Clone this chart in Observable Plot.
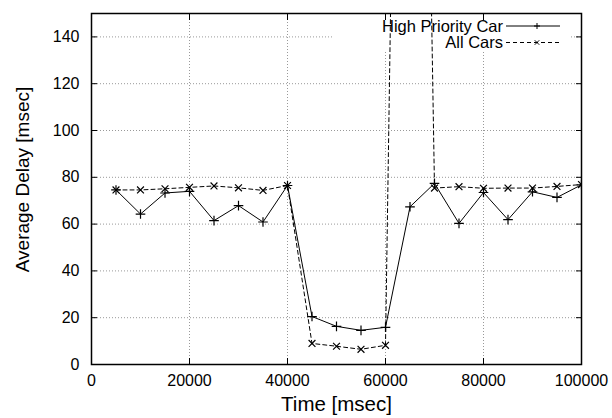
<!DOCTYPE html>
<html>
<head>
<meta charset="utf-8">
<script src="https://cdn.jsdelivr.net/npm/d3@7"></script>
<script src="https://cdn.jsdelivr.net/npm/@observablehq/plot@0.6"></script>
<style>
  html, body { margin: 0; padding: 0; background: white; }
  #chart { width: 612px; height: 418px; }
</style>
</head>
<body>
<div id="chart"></div>
<script>
const times = [5000, 10000, 15000, 20000, 25000, 30000, 35000, 40000, 45000, 50000,
               55000, 60000, 65000, 70000, 75000, 80000, 85000, 90000, 95000, 100000];
const highPriorityCar = [74.6, 64.3, 73.3, 74.0, 61.5, 67.9, 60.9, 76.5, 20.5, 16.3,
                         14.6, 15.9, 67.4, 77.4, 60.3, 73.5, 61.9, 73.8, 71.4, 76.8];
const allCars = [74.6, 74.6, 75.1, 75.7, 76.3, 75.5, 74.4, 76.5, 9.0, 7.8,
                 6.5, 8.2, 700, 75.4, 76.0, 75.3, 75.4, 75.4, 76.1, 76.9];
const xTicks = [0, 20000, 40000, 60000, 80000, 100000];
const yTicks = [0, 20, 40, 60, 80, 100, 120, 140];
const seriesNames = ["High Priority Car", "All Cars"];
const xLabel = "Time [msec]";
const yLabel = "Average Delay [msec]";

const high = times.map((t, i) => ({t, v: highPriorityCar[i]}));
const all = times.map((t, i) => ({t, v: allCars[i]}));

const font = "'Liberation Sans', Arial, Helvetica, sans-serif";
const gridStyle = {stroke: "#999", strokeDasharray: "1,2", strokeWidth: 1};

const plot = Plot.plot({
  width: 612,
  height: 418,
  marginLeft: 91,
  marginRight: 31,
  marginTop: 13,
  marginBottom: 54,
  style: {fontFamily: font, background: "white", color: "black"},
  x: {domain: [0, 100000]},
  y: {domain: [0, 150]},
  marks: [
    Plot.ruleX(xTicks.slice(1, -1), gridStyle),
    Plot.ruleY(yTicks.slice(1), gridStyle),
    Plot.line(high, {x: "t", y: "v", stroke: "black", strokeWidth: 1, clip: true}),
    Plot.line(all, {x: "t", y: "v", stroke: "black", strokeWidth: 1, strokeDasharray: "4,3", clip: true}),
    Plot.dot(high, {x: "t", y: "v", symbol: "plus", r: 3.2, stroke: "black", strokeWidth: 1.2, clip: true}),
    Plot.dot(all, {x: "t", y: "v", symbol: "times", r: 3.2, stroke: "black", strokeWidth: 1.2, clip: true}),
    Plot.axisX({ticks: xTicks, tickSize: 0, tickPadding: 10, fontSize: 16, tickFormat: d => String(d), label: null}),
    Plot.axisY({ticks: yTicks, tickSize: 0, tickPadding: 12, fontSize: 16, tickFormat: d => String(d), label: null}),
    Plot.axisX({ticks: xTicks, anchor: "bottom", tickSize: -6, tickFormat: () => "", label: null}),
    Plot.axisX({ticks: xTicks, anchor: "top", tickSize: -6, tickFormat: () => "", label: null}),
    Plot.axisY({ticks: yTicks, anchor: "left", tickSize: -6, tickFormat: () => "", label: null}),
    Plot.axisY({ticks: yTicks, anchor: "right", tickSize: -6, tickFormat: () => "", label: null}),
    Plot.frame({stroke: "black", strokeWidth: 1.5}),
    Plot.text([xLabel], {text: d => d, frameAnchor: "bottom", textAnchor: "middle", dy: 40, fontSize: 20.5, lineAnchor: "middle"}),
    Plot.text([yLabel], {text: d => d, frameAnchor: "left", textAnchor: "middle", dx: -69, dy: -9.5, rotate: -90, fontSize: 19, lineAnchor: "middle"})
  ]
});

document.getElementById("chart").appendChild(plot);

// Legend (gnuplot-style key with opaque background)
const svg = d3.select(plot);
const rules = plot.querySelectorAll('g[aria-label="rule"]');
const lastRule = rules[rules.length - 1];
const bg = document.createElementNS("http://www.w3.org/2000/svg", "rect");
bg.setAttribute("x", 333);
bg.setAttribute("y", 14);
bg.setAttribute("width", 237);
bg.setAttribute("height", 37);
bg.setAttribute("fill", "white");
lastRule.after(bg);

const key = svg.append("g").attr("font-family", font).attr("font-size", 16.5);
const rows = [
  {name: seriesNames[0], y: 26, dash: null, sym: "plus"},
  {name: seriesNames[1], y: 42.5, dash: "4,3", sym: "times"}
];
rows.forEach(r => {
  key.append("text").attr("x", 503).attr("y", r.y).attr("dy", "0.35em")
    .attr("text-anchor", "end").attr("fill", "black").text(r.name);
  key.append("line").attr("x1", 506).attr("x2", 560).attr("y1", r.y).attr("y2", r.y)
    .attr("stroke", "black").attr("stroke-width", 1).attr("stroke-dasharray", r.dash);
  const s = 3;
  const cx = 537, cy = r.y;
  const d = r.sym === "plus"
    ? `M${cx - s},${cy}H${cx + s}M${cx},${cy - s}V${cy + s}`
    : `M${cx - s * 0.75},${cy - s * 0.75}L${cx + s * 0.75},${cy + s * 0.75}M${cx - s * 0.75},${cy + s * 0.75}L${cx + s * 0.75},${cy - s * 0.75}`;
  key.append("path").attr("d", d).attr("stroke", "black").attr("fill", "none");
});
</script>
</body>
</html>
